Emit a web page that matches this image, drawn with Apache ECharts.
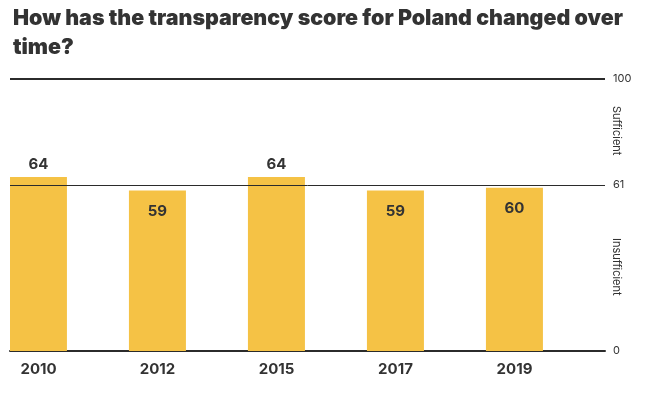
<!DOCTYPE html>
<html>
<head>
<meta charset="utf-8">
<script src="https://cdn.jsdelivr.net/npm/echarts@6/dist/echarts.min.js"></script>
<style>html,body{margin:0;padding:0;background:#fff;}#c{width:649px;height:393px;}</style>
</head>
<body>
<div id="c"></div>
<script>
var categories = ['2010', '2012', '2015', '2017', '2019'];
var scores = [64, 59, 64, 59, 60];
var threshold = 61;
var yTicks = [0, 61, 100];
var bandLabels = ['Sufficient', 'Insufficient'];

var chart = echarts.init(document.getElementById('c'));
var dark = '#2b2b2b';
var barData = scores.map(function (v) {
  var above = v >= threshold;
  return {
    value: v,
    label: {
      position: above ? 'top' : 'insideTop',
      distance: above ? 5 : 13
    }
  };
});
chart.setOption({
  backgroundColor: '#fff',
  animation: false,
  title: {
    text: 'How has the transparency score for Poland changed over\ntime?',
    left: 8, top: -1,
    textStyle: { fontFamily: 'Inter', fontWeight: 900, fontSize: 21.4, color: '#333', lineHeight: 29 }
  },
  grid: { left: 10, right: 44, top: 79, bottom: 42 },
  xAxis: {
    type: 'category',
    data: categories,
    axisLine: { lineStyle: { color: dark, width: 2 } },
    axisTick: { show: false },
    axisLabel: {
      fontFamily: 'Inter', fontWeight: 700, fontSize: 15, color: '#333',
      margin: 11, padding: [0, 62, 0, 0]
    }
  },
  yAxis: {
    type: 'value',
    position: 'right',
    min: 0, max: 100,
    splitLine: { show: false },
    axisLine: { show: false },
    axisTick: { show: false },
    axisLabel: {
      customValues: yTicks,
      fontFamily: 'Inter', fontSize: 11, color: '#333', margin: 8
    }
  },
  graphic: [
    { type: 'text', left: 611, top: 106, rotation: -Math.PI / 2,
      style: { text: bandLabels[0], fontFamily: 'Inter', fontSize: 11, fill: '#333' } },
    { type: 'text', left: 611, top: 238, rotation: -Math.PI / 2,
      style: { text: bandLabels[1], fontFamily: 'Inter', fontSize: 11, fill: '#333' } }
  ],
  series: [
    {
      type: 'bar',
      data: barData,
      barWidth: 57,
      barGap: '9%',
      itemStyle: { color: '#F5C245' },
      label: {
        show: true,
        fontFamily: 'Inter', fontWeight: 700, fontSize: 15, color: '#333'
      },
      markLine: {
        silent: true,
        symbol: 'none',
        label: { show: false },
        data: [
          { yAxis: 100, lineStyle: { color: dark, width: 2, type: 'solid' } },
          { yAxis: threshold, lineStyle: { color: dark, width: 1, type: 'solid' } }
        ]
      },
      z: 2
    },
    {
      type: 'bar',
      data: categories.map(function () { return null; }),
      barWidth: 57,
      barGap: '9%'
    }
  ]
});
</script>
</body>
</html>
